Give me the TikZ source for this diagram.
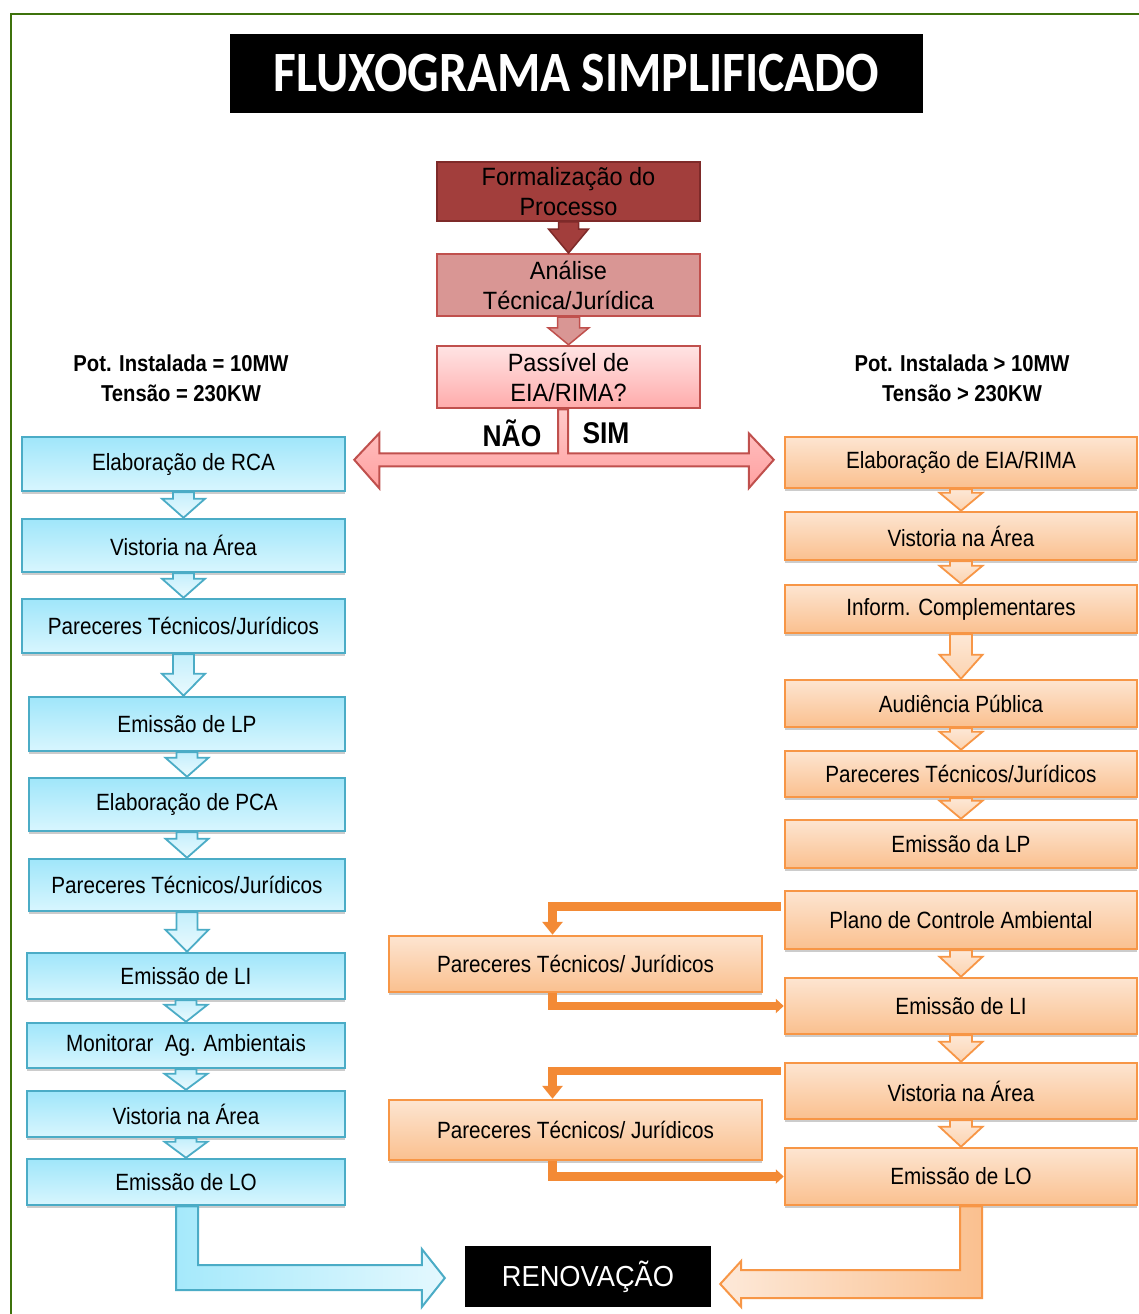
\documentclass[tikz,border=0pt]{standalone}
\usepackage{fontspec}
\setmainfont{Liberation Sans}
\newfontfamily\cnd{Liberation Sans}[FakeStretch=0.88]
\newfontfamily\midf{Liberation Sans}[FakeStretch=0.94]
\newfontfamily\ttlf{Carlito}[FakeStretch=0.87]
\usetikzlibrary{arrows.meta,calc,shadows}
\definecolor{frameg}{HTML}{3E720C}
\definecolor{bluebd}{HTML}{4BACC6}
\definecolor{bluetop}{HTML}{A0E6FA}
\definecolor{bluebot}{HTML}{D8F6FE}
\definecolor{blueatop}{HTML}{C4EFFC}
\definecolor{blueabot}{HTML}{EAFAFE}
\definecolor{orbd}{HTML}{F79646}
\definecolor{ortop}{HTML}{FDE5D1}
\definecolor{orbot}{HTML}{FAC08F}
\definecolor{oratop}{HTML}{FDE8D6}
\definecolor{orabot}{HTML}{FCD3B0}
\definecolor{darkred}{HTML}{A23E3C}
\definecolor{darkredbd}{HTML}{7E2A29}
\definecolor{pinkm}{HTML}{D99694}
\definecolor{redbd}{HTML}{C0504D}
\definecolor{pinktop}{HTML}{FFE4E4}
\definecolor{pinkbot}{HTML}{FFABAB}
\definecolor{tctop}{HTML}{FFCACA}
\definecolor{tcbot}{HTML}{FFA0A0}
\definecolor{oline}{HTML}{F38A35}
\definecolor{lblue}{HTML}{A5E9FB}
\definecolor{rblue}{HTML}{E4F8FE}
\definecolor{lor}{HTML}{FDE9D9}
\definecolor{ror}{HTML}{FAC08F}

\newcommand\dar[6]{\path[#1] let \p1=(#2), \p2=(#3) in
  (\x1-#4pt,\y1) -- (\x1+#4pt,\y1) -- (\x1+#4pt,\y2+#6pt) -- (\x1+#5pt,\y2+#6pt)
  -- (\x1,\y2) -- (\x1-#5pt,\y2+#6pt) -- (\x1-#4pt,\y2+#6pt) -- cycle;}

\tikzset{
  boxtext/.style={font=\cnd\fontsize{23.5}{28}\selectfont, text=black, align=center, inner sep=0pt},
  midtext/.style={font=\midf\fontsize{25}{30}\selectfont, text=black, align=center, inner sep=0pt},
  shad/.style={drop shadow={shadow xshift=0pt, shadow yshift=-3pt, opacity=0.4}},
  bluebox/.style={boxtext, shad, draw=bluebd, line width=2.5pt, top color=bluetop, bottom color=bluebot},
  orbox/.style={boxtext, shad, draw=orbd, line width=2.5pt, top color=ortop, bottom color=orbot},
  lw/.style={minimum width=323, minimum height=#1},
  lw2/.style={minimum width=316, minimum height=#1},
  lw3/.style={minimum width=318, minimum height=#1},
  rw/.style={minimum width=352, minimum height=#1},
  bluearr/.style={draw=bluebd, line width=1.8pt, top color=blueatop, bottom color=blueabot},
  orarr/.style={draw=orbd, line width=1.8pt, top color=oratop, bottom color=orabot},
  oconn/.style={draw=oline, line width=8.5pt},
  lbl/.style={font=\cnd\bfseries\fontsize{23}{30}\selectfont, align=center, inner sep=0pt},
  yn/.style={font=\cnd\bfseries\fontsize{30}{30}\selectfont, inner sep=0pt},
}

\begin{document}
\begin{tikzpicture}[x=1pt,y=-1pt]
\useasboundingbox (0,0) rectangle (1139,1314);
\fill[white] (0,0) rectangle (1139,1314);
\draw[frameg, line width=2pt] (11,1314) -- (11,14) -- (1139,14);

% title
\node[fill=black, minimum width=693, minimum height=79, inner sep=0pt, text=white,
      font=\ttlf\bfseries\fontsize{57}{60}\selectfont] (title) at (576.5,73.5) {FLUXOGRAMA SIMPLIFICADO};

% center column
\node[midtext, minimum width=263, minimum height=59, fill=darkred, draw=darkredbd, line width=1.5pt] (f1) at (568.5,191.5) {Formalização do\\Processo};
\node[midtext, minimum width=263, minimum height=62, fill=pinkm, draw=redbd, line width=2pt] (f2) at (568.5,285) {Análise\\Técnica/Jurídica};
\node[midtext, minimum width=263, minimum height=62, top color=pinktop, bottom color=pinkbot, draw=redbd, line width=2.5pt] (f3) at (568.5,377) {Passível de\\EIA/RIMA?};

% labels
\node[lbl] (ll) at (181,378) {Pot. Instalada = 10MW\\Tensão = 230KW};
\node[lbl] (rl) at (962,378) {Pot. Instalada > 10MW\\Tensão > 230KW};

% left column
\node[bluebox, lw=54] (lb1) at (183.5,464) {Elaboração de RCA};
\node[bluebox, lw=53] (lb2) at (183.5,545.5) {Vistoria na Área};
\node[bluebox, lw=54] (lb3) at (183.5,626) {Pareceres Técnicos/Jurídicos};
\node[bluebox, lw2=54] (lb4) at (187,724) {Emissão de LP};
\node[bluebox, lw2=53] (lb5) at (187,804.5) {Elaboração de PCA};
\node[bluebox, lw2=52] (lb6) at (187,885) {Pareceres Técnicos/Jurídicos};
\node[bluebox, lw3=46] (lb7) at (186,976) {Emissão de LI};
\node[bluebox, lw3=45] (lb8) at (186,1045.5) {Monitorar\ \ Ag. Ambientais};
\node[bluebox, lw3=46] (lb9) at (186,1114) {Vistoria na Área};
\node[bluebox, lw3=46] (lb10) at (186,1182) {Emissão de LO};

% right column
\node[orbox, rw=51] (rb1) at (961,462.5) {Elaboração de EIA/RIMA};
\node[orbox, rw=48] (rb2) at (961,536) {Vistoria na Área};
\node[orbox, rw=48] (rb3) at (961,609) {Inform. Complementares};
\node[orbox, rw=47] (rb4) at (961,703.5) {Audiência Pública};
\node[orbox, rw=46] (rb5) at (961,774) {Pareceres Técnicos/Jurídicos};
\node[orbox, rw=48] (rb6) at (961,844) {Emissão da LP};
\node[orbox, rw=58] (rb7) at (961,920) {Plano de Controle Ambiental};
\node[orbox, rw=56] (rb8) at (961,1006) {Emissão de LI};
\node[orbox, rw=56] (rb9) at (961,1091) {Vistoria na Área};
\node[orbox, rw=57] (rb10) at (961,1176.5) {Emissão de LO};

% middle orange boxes
\node[orbox, minimum width=373, minimum height=56] (mp1) at (575.5,964) {Pareceres Técnicos/ Jurídicos};
\node[orbox, minimum width=373, minimum height=60] (mp2) at (575.5,1130) {Pareceres Técnicos/ Jurídicos};

% renovacao
\node[fill=black, minimum width=246, minimum height=61, inner sep=0pt, text=white,
      font=\midf\fontsize{29}{30}\selectfont] (ren) at (588,1276.5) {RENOVAÇÃO};

% center arrows
\dar{fill=darkred, draw=darkredbd, line width=1.5pt}{f1.south}{f2.north}{10}{20}{24}
\dar{fill=pinkm, draw=redbd, line width=1.5pt}{f2.south}{f3.north}{11}{20.5}{17}

% T connector NAO / SIM
\path[top color=tctop, bottom color=tcbot, draw=redbd, line width=2pt]
  let \p1=(f3.south), \p2=(lb1.east), \p3=(rb1.west) in
  (\x1-10.5pt,\y1) -- (\x1-10.5pt,\y1-44pt) -- (\x2+33pt,\y1-44pt) -- (\x2+33pt,\y1-24pt)
  -- (\x2+8pt,\y1-50.5pt) -- (\x2+33pt,\y1-79pt) -- (\x2+33pt,\y1-57pt) -- (\x3-35pt,\y1-57pt)
  -- (\x3-35pt,\y1-79pt) -- (\x3-10pt,\y1-50.5pt) -- (\x3-35pt,\y1-24pt) -- (\x3-35pt,\y1-44pt)
  -- (\x1-0.5pt,\y1-44pt) -- (\x1-0.5pt,\y1) -- cycle;
\node[yn] (nao) at (512,433) {NÃO};
\node[yn] (sim) at (606,433) {SIM};

% left arrows
\dar{bluearr}{lb1.south}{lb2.north}{10.5}{21.5}{19}
\dar{bluearr}{lb2.south}{lb3.north}{10.5}{21.5}{19}
\dar{bluearr}{lb3.south}{lb4.north}{10.5}{21.5}{22}
\dar{bluearr}{lb4.south}{lb5.north}{10.5}{21.5}{19}
\dar{bluearr}{lb5.south}{lb6.north}{10.5}{21.5}{19}
\dar{bluearr}{lb6.south}{lb7.north}{10.5}{21.5}{22}
\dar{bluearr}{lb7.south}{lb8.north}{10.5}{21.5}{17}
\dar{bluearr}{lb8.south}{lb9.north}{10.5}{21.5}{16}
\dar{bluearr}{lb9.south}{lb10.north}{10.5}{21.5}{16}

% right arrows
\dar{orarr}{rb1.south}{rb2.north}{11}{21.5}{18}
\dar{orarr}{rb2.south}{rb3.north}{11}{21.5}{18}
\dar{orarr}{rb3.south}{rb4.north}{11}{21.5}{24}
\dar{orarr}{rb4.south}{rb5.north}{11}{21.5}{18}
\dar{orarr}{rb5.south}{rb6.north}{11}{21.5}{18}
\dar{orarr}{rb7.south}{rb8.north}{11}{21.5}{20}
\dar{orarr}{rb8.south}{rb9.north}{11}{21.5}{20}
\dar{orarr}{rb9.south}{rb10.north}{11}{21.5}{20}

% orange elbow connectors
\coordinate (c1) at ($(rb7.north west)+(-3,16.5)$);
\coordinate (c2) at ($(rb9.north west)+(-3,9)$);
\draw[oconn,-{Triangle[width=20pt,length=13pt]}] (c1) -| ($(mp1.north)+(-23,0)$);
\draw[oconn,-{Triangle[width=14pt,length=8pt]}] ($(mp1.south)+(-23,0)$) |- (rb8.west);
\draw[oconn,-{Triangle[width=20pt,length=13pt]}] (c2) -| ($(mp2.north)+(-23,0)$);
\draw[oconn,-{Triangle[width=14pt,length=8pt]}] ($(mp2.south)+(-23,0)$) |- (rb10.west);

% bottom L arrows to RENOVACAO
\path[left color=lblue, right color=rblue, draw=bluebd, line width=2pt]
  let \p1=(lb10.south), \p2=(ren.west) in
  (\x1-10pt,\y1) -- (\x1-10pt,\y2-13.5pt) -- (\x2-43pt,\y2-13.5pt) -- (\x2-43pt,\y2-30.5pt)
  -- (\x2-20pt,\y2-1.5pt) -- (\x2-43pt,\y2+27.5pt) -- (\x2-43pt,\y2+11.5pt)
  -- (\x1+12pt,\y2+11.5pt) -- (\x1+12pt,\y1) -- cycle;
\path[left color=lor, right color=ror, draw=orbd, line width=2pt]
  let \p1=(rb10.south), \p2=(ren.east) in
  (\x1-1pt,\y1) -- (\x1-1pt,\y2+6.5pt) -- (\x2+30pt,\y2+6.5pt) -- (\x2+30pt,\y2+15.5pt)
  -- (\x2+9pt,\y2-7.5pt) -- (\x2+30pt,\y2-30.5pt) -- (\x2+30pt,\y2-21.5pt)
  -- (\x1+21pt,\y2-21.5pt) -- (\x1+21pt,\y1) -- cycle;
\end{tikzpicture}
\end{document}
